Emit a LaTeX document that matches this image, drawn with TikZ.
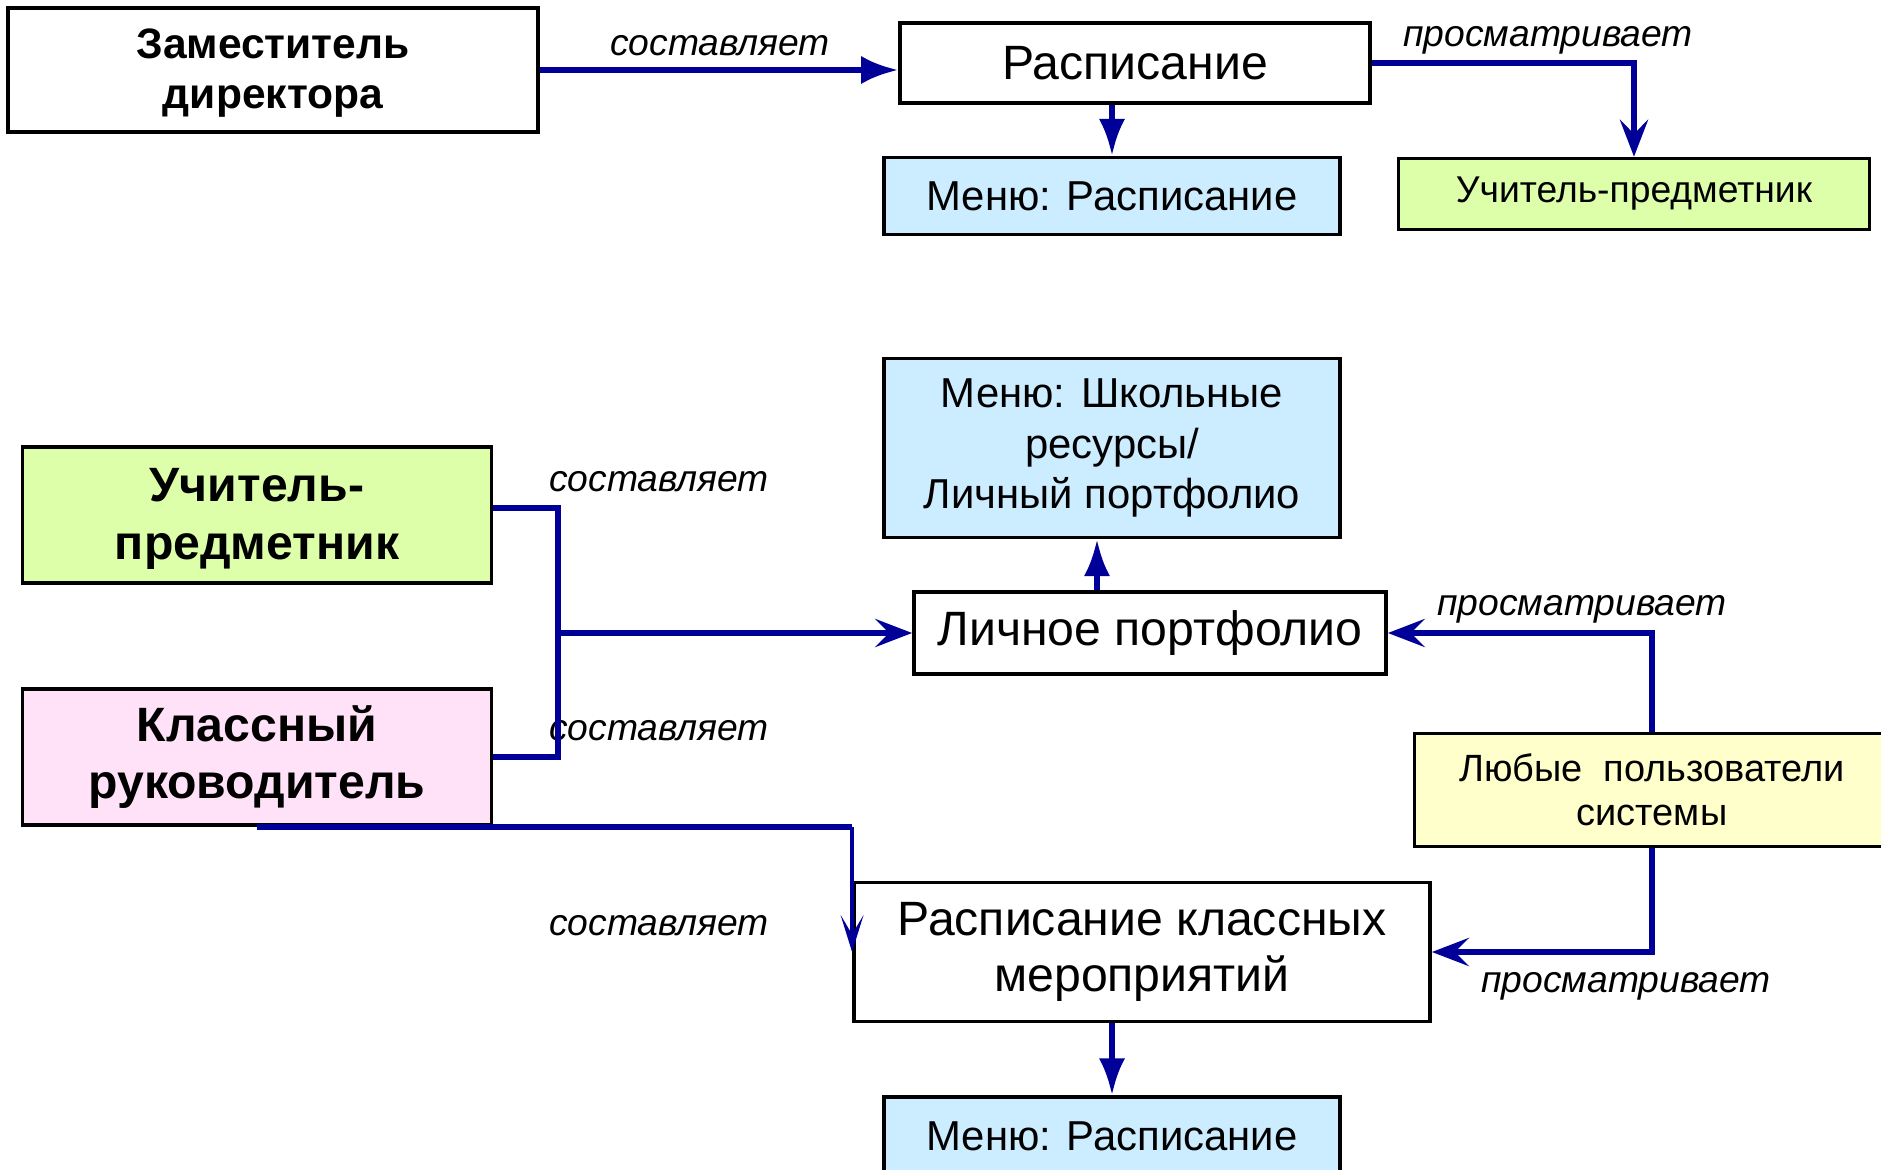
\documentclass[tikz,border=0pt]{standalone}
\usepackage{fontspec}
\setmainfont{Liberation Sans}
\usetikzlibrary{arrows.meta, positioning, calc}
\definecolor{linkcol}{HTML}{000099}
\definecolor{menucol}{HTML}{CCECFF}
\definecolor{teachcol}{HTML}{DDFFAA}
\definecolor{headcol}{HTML}{FFE1F8}
\definecolor{usercol}{HTML}{FFFFCC}

\begin{document}
\begin{tikzpicture}[x=0.01cm, y=-0.01cm,
    box/.style={draw=black, line width=1pt, fill=white, align=center,
      inner sep=0pt},
    big/.style={font=\fontsize{13.7}{16}\selectfont},
    menu/.style={box, fill=menucol, minimum width=4.56cm,
      font=\fontsize{11.9}{14.3}\selectfont},
    role/.style={box, minimum width=4.69cm, minimum height=1.36cm,
      font=\fontsize{13.7}{16.4}\selectfont\bfseries},
    lbl/.style={font=\fontsize{10.6}{13}\selectfont\itshape},
    link/.style={draw=linkcol, line width=1.7pt},
    tri/.style={link, -{Latex[length=10.5pt, width=8pt]}},
    narrow/.style={link, -{Latex[length=10.5pt, width=7.5pt]}},
    barb/.style={link, -{Stealth[length=10.5pt, width=8pt, inset=4pt]}},
    barbthin/.style={link, line width=1.1pt,
      -{Stealth[length=10.5pt, width=6.5pt, inset=5.5pt]}}]
  \useasboundingbox (0,0) rectangle (1881,1170);
  % upper part
  \node[box, minimum width=5.30cm, minimum height=1.24cm,
    font=\fontsize{12.1}{14.3}\selectfont\bfseries] (deputy) at (273,70)
    {\strut Заместитель\\директора};
  \node[box, big, minimum width=4.70cm, minimum height=0.80cm] (sched)
    at (1135,63) {Расписание};
  \node[menu, minimum height=0.77cm] (menuA) at (1112,196) {Меню: Расписание};
  \node[box, fill=teachcol, minimum width=4.71cm, minimum height=0.71cm,
    font=\fontsize{10.6}{13}\selectfont] (teachA) at (1634,194)
    {Учитель-предметник};
  \node[lbl] (makeA) at (720,46) {составляет};
  \node[lbl] (viewA) at (1548,40) {просматривает};
  \draw[tri] (deputy.east) -- (deputy.east -| sched.west);
  \draw[narrow] (menuA.north |- sched.south) -- (menuA.north);
  \draw[barb] (sched.east) -| (teachA.north);
  % lower part
  \node[menu, minimum height=1.79cm] (menuB) at (1112,448)
    {Меню: Школьные\\ресурсы/\\Личный портфолио};
  \node[role, fill=teachcol] (teachB) at (257,515)
    {\strut Учитель-\\предметник};
  \node[box, big, minimum width=4.72cm, minimum height=0.82cm] (port)
    at (1150,633) {Личное портфолио};
  \node[role, fill=headcol] (head) at (257,757) {Классный\\руководитель};
  \node[box, fill=usercol, minimum width=4.75cm, minimum height=1.13cm,
    font=\fontsize{10.8}{12.5}\selectfont] (users) at (1652,790)
    {Любые\ \ пользователи\\системы};
  \node[box, big, minimum width=5.76cm, minimum height=1.39cm] (events)
    at (1142,952) {Расписание классных\\мероприятий};
  \node[menu, minimum height=0.78cm] (menuC) at (1112,1136) {Меню: Расписание};
  \node[lbl] (makeB) at (659,482) {составляет};
  \node[lbl] (makeC) at (659,731) {составляет};
  \node[lbl] (makeD) at (659,926) {составляет};
  \node[lbl] (viewB) at (1582,609) {просматривает};
  \node[lbl] (viewC) at (1626,986) {просматривает};
  \coordinate (bus) at (558,633);
  \draw[link] ([yshift=0.07cm]teachB.east) -| (bus) |- (head.east);
  \draw[barb] (bus) -- (port.west);
  \draw[narrow] ([xshift=-0.15cm]port.north -| menuB.south)
    -- ([xshift=-0.15cm]menuB.south);
  \draw[barb] (users.north) |- (port.east);
  \draw[barb] (users.south) |- (events.east);
  \draw[link] (head.south) -- (head.south -| events.west);
  \draw[barbthin] (head.south -| events.west) -- (events.west);
  \draw[narrow] (events.south -| menuC.north) -- (menuC.north);
\end{tikzpicture}
\end{document}
